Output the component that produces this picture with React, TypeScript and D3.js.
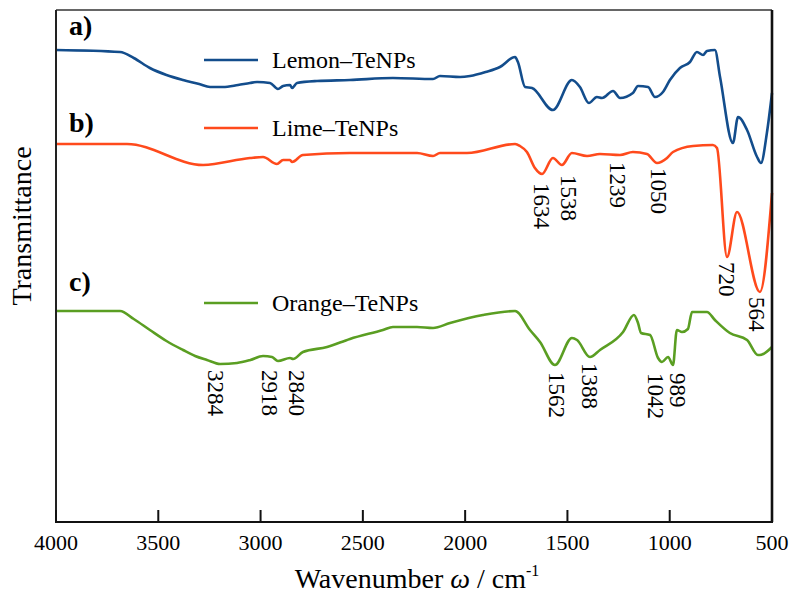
import React from "react";
import * as d3 from "d3";

// Wavenumber (cm^-1) vs. transmittance (arbitrary offset units)
const lemonData: [number, number][] = [
  [4000, 472], [3687, 470], [3620, 464], [3541, 454], [3460, 447], [3379, 442], [3300, 438], [3247, 435], [3184, 435], [3110, 437], [3052, 439], [3017, 440],
  [2954, 439], [2915, 433], [2890, 436], [2856, 437], [2846, 434], [2822, 439], [2724, 441], [2563, 442],
  [2353, 444], [2157, 443], [2123, 446], [2025, 445], [1976, 446], [1900, 450], [1830, 455], [1756, 465], [1742, 460],
  [1707, 435], [1673, 434], [1571, 412], [1478, 442], [1439, 435], [1395, 419], [1356, 425], [1331, 424],
  [1277, 431], [1243, 424], [1180, 429], [1155, 436], [1106, 435], [1072, 425], [1033, 430], [999, 442],
  [950, 454], [901, 460], [867, 470], [837, 467], [818, 471], [779, 472], [754, 445], [691, 379],
  [666, 405], [622, 392], [573, 365], [554, 359], [525, 389], [500, 429],
];

const limeData: [number, number][] = [
  [4000, 378], [3653, 378], [3281, 357], [3052, 364], [2988, 365], [2920, 358], [2890, 362], [2856, 362],
  [2846, 360], [2793, 367], [2563, 369], [2402, 369], [2235, 369], [2157, 366], [2123, 369], [1991, 369],
  [1756, 378], [1732, 376], [1698, 370], [1659, 354], [1624, 348], [1571, 364], [1527, 357], [1478, 369],
  [1404, 366], [1341, 368], [1243, 367], [1180, 370], [1111, 368], [1062, 359], [1013, 364], [984, 370],
  [886, 376], [789, 377], [769, 374], [720, 265], [671, 310], [559, 230], [500, 329],
];

const orangeData: [number, number][] = [
  [4000, 211], [3687, 211], [3620, 203], [3541, 192], [3460, 181], [3379, 172], [3320, 166], [3262, 162], [3198, 158], [3115, 159], [3050, 162], [2988, 166],
  [2944, 165], [2915, 161], [2856, 164], [2841, 163], [2793, 170], [2675, 175], [2563, 183], [2402, 192],
  [2353, 195], [2235, 195], [2157, 194], [2074, 199], [1913, 207], [1756, 211], [1683, 192], [1634, 180],
  [1561, 157], [1478, 184], [1453, 182], [1390, 165], [1341, 172], [1228, 190], [1175, 207], [1155, 199],
  [1140, 189], [1096, 187], [1057, 164], [1038, 160], [1008, 165], [984, 157], [965, 192], [940, 190],
  [911, 193], [891, 210], [818, 210], [779, 202], [706, 189], [622, 182], [569, 167], [559, 167], [500, 175],
];

const seriesNames = ["Lemon–TeNPs", "Lime–TeNPs", "Orange–TeNPs"];
const seriesColors = ["#134d8c", "#ff4a1c", "#5a9e22"];
const panelLabels = ["a)", "b)", "c)"];

// Peak annotations: text, label wavenumber position, label top (y units)
const peakLabels: [string, number, number][] = [
  ["3284", 3218, 152], ["2918", 2954, 152], ["2840", 2822, 152],
  ["1634", 1629, 339], ["1538", 1497, 347], ["1239", 1253, 360], ["1050", 1057, 354],
  ["720", 720, 260], ["564", 578, 225],
  ["1562", 1551, 150], ["1388", 1390, 159], ["1042", 1068, 149], ["989", 960, 149],
];

const xTicks = [4000, 3500, 3000, 2500, 2000, 1500, 1000, 500];

const W = 800;
const H = 599;
const left = 56, right = 772, top = 10, bottom = 522;
const font = "Liberation Serif";

export default function App() {
  const x = d3.scaleLinear().domain([4000, 500]).range([left, right]);
  const y = d3.scaleLinear().domain([0, 512]).range([bottom, top]);
  const line = d3
    .line<[number, number]>()
    .x((d) => x(d[0]))
    .y((d) => y(d[1]))
    .curve(d3.curveMonotoneX);
  const all = [lemonData, limeData, orangeData];
  const legendY = [60, 128, 303];
  const panelY = [35, 132, 291];
  const ts = { fontFamily: font };

  return (
    <svg
      width={W}
      height={H}
      style={{ position: "absolute", left: 0, top: 0, background: "#fff", fontFamily: font }}
    >
      <rect x={0} y={0} width={W} height={H} fill="#fff" />
      {all.map((d, i) => (
        <path key={i} d={line(d) || ""} fill="none" stroke={seriesColors[i]} strokeWidth={2.6} strokeLinejoin="round" />
      ))}
      {/* frame */}
      <line x1={left} y1={top} x2={right} y2={top} stroke="#333" strokeWidth={1.6} />
      <line x1={left} y1={top} x2={left} y2={bottom} stroke="#222" strokeWidth={2} />
      <line x1={right} y1={top} x2={right} y2={bottom} stroke="#111" strokeWidth={2.6} />
      <line x1={left - 1} y1={bottom} x2={right + 1} y2={bottom} stroke="#111" strokeWidth={2} />
      {xTicks.map((t) => (
        <g key={t}>
          <line x1={x(t)} x2={x(t)} y1={bottom} y2={bottom - 12} stroke="#111" strokeWidth={2} />
          <text x={x(t)} y={550} textAnchor="middle" fontSize={22} fill="#000" style={ts}>
            {t}
          </text>
        </g>
      ))}
      <text x={417} y={588} textAnchor="middle" fontSize={28} fill="#000" style={ts}>
        Wavenumber <tspan fontStyle="italic">ω</tspan>
        {"  / cm"}
        <tspan fontSize={16} dy={-12}>-1</tspan>
      </text>
      <text
        transform={`translate(31, ${(top + bottom) / 2 - 40}) rotate(-90)`}
        textAnchor="middle"
        fontSize={28}
        fill="#000"
        style={ts}
      >
        Transmittance
      </text>
      {panelLabels.map((p, i) => (
        <text key={p} x={69} y={panelY[i]} fontSize={28} fontWeight="bold" fill="#000" style={ts}>
          {p}
        </text>
      ))}
      {seriesNames.map((n, i) => (
        <g key={n}>
          <line x1={204} x2={258} y1={legendY[i]} y2={legendY[i]} stroke={seriesColors[i]} strokeWidth={2.6} />
          <text x={272} y={legendY[i] + 8} fontSize={24} fill="#000" style={ts}>
            {n}
          </text>
        </g>
      ))}
      {peakLabels.map(([t, w, v]) => (
        <text
          key={t}
          transform={`translate(${x(w)}, ${y(v)}) rotate(90)`}
          textAnchor="start"
          dominantBaseline="central"
          fontSize={23}
          fill="#000"
          style={ts}
        >
          {t}
        </text>
      ))}
    </svg>
  );
}
